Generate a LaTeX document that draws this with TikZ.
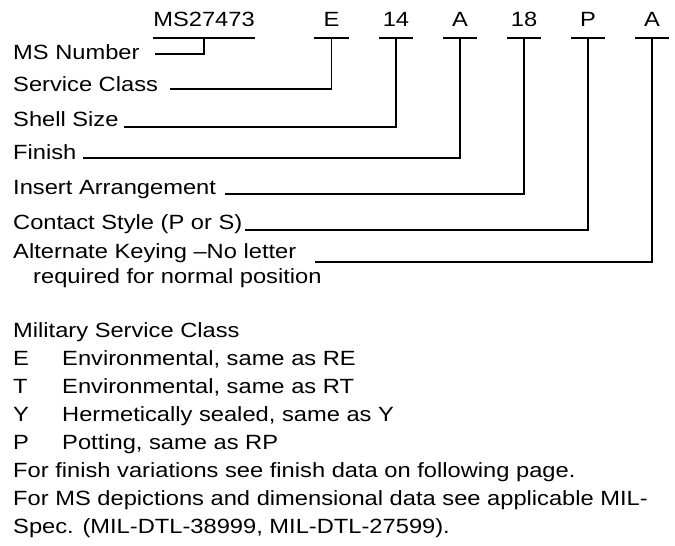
\documentclass[tikz,border=0pt]{standalone}
\usepackage{fontspec}
\setmainfont{Liberation Sans}[FakeStretch=1.15]
\begin{document}
\begin{tikzpicture}[x=1pt, y=-1pt, font=\fontsize{20.6}{24}\selectfont,
          lbl/.style={anchor=base west, inner sep=0pt},
          code/.style={anchor=south, inner sep=0pt, minimum width=34pt, text depth=11pt},
          lead/.style={line width=1.4pt}]
        \useasboundingbox (0,0) rectangle (675,546);
        % part number and its fields
        \node[code, minimum width=98pt] (ms) at (204,38) {MS27473};
        \node[code] (cls) at (331.5,38) {E};
        \node[code] (sz) at (396,38) {14};
        \node[code] (fin) at (460,38) {A};
        \node[code] (arr) at (524,38) {18};
        \node[code] (con) at (588,38) {P};
        \node[code] (key) at (652,38) {A};
        \draw[lead] (ms.south west) -- (ms.south east);
        \draw[lead] (cls.south west) -- (cls.south east);
        \draw[lead] (sz.south west) -- (sz.south east);
        \draw[lead] (fin.south west) -- (fin.south east);
        \draw[lead] (arr.south west) -- (arr.south east);
        \draw[lead] (con.south west) -- (con.south east);
        \draw[lead] (key.south west) -- (key.south east);
        % field names
        \node[lbl] (msno) at (13,59) {MS Number};
        \node[lbl] (svc) at (13,91) {Service Class};
        \node[lbl] (shell) at (13,126) {Shell Size};
        \node[lbl] (finish) at (13,159) {Finish};
        \node[lbl] (insert) at (13,194) {Insert Arrangement};
        \node[lbl] (contact) at (13,229) {Contact Style (P or S)};
        \node[lbl] (altkey) at (13,258) {Alternate Keying –No letter};
        \node[lbl] (altkey2) at (33,283) {required for normal position};
        \coordinate (msnoend) at (155,54);
        \coordinate (svcend) at (170,89);
        \coordinate (shellend) at (124,127);
        \coordinate (finishend) at (83,158);
        \coordinate (insertend) at (225,194);
        \coordinate (contactend) at (245,230);
        \coordinate (altkeyend) at (315,262);
        \draw[lead] (ms.south) |- (msnoend);
        \draw[lead] (cls.south) |- (svcend);
        \draw[lead] (sz.south) |- (shellend);
        \draw[lead] (fin.south) |- (finishend);
        \draw[lead] (arr.south) |- (insertend);
        \draw[lead] (con.south) |- (contactend);
        \draw[lead] (key.south) |- (altkeyend);
        % notes
        \node[lbl] (milcls) at (13,337) {Military Service Class};
        \node[lbl] (ltrE) at (13,365) {E};
        \node[lbl] (txtE) at (62,365) {Environmental, same as RE};
        \node[lbl] (ltrT) at (13,393) {T};
        \node[lbl] (txtT) at (62,393) {Environmental, same as RT};
        \node[lbl] (ltrY) at (13,421) {Y};
        \node[lbl] (txtY) at (62,421) {Hermetically sealed, same as Y};
        \node[lbl] (ltrP) at (13,449) {P};
        \node[lbl] (txtP) at (62,449) {Potting, same as RP};
        \node[lbl] (note1) at (13,477) {For finish variations see finish data on following page.};
        \node[lbl] (note2) at (13,505) {For MS depictions and dimensional data see applicable MIL-};
        \node[lbl] (note3) at (13,533) {Spec. (MIL-DTL-38999, MIL-DTL-27599).};
      \end{tikzpicture}
\end{document}
